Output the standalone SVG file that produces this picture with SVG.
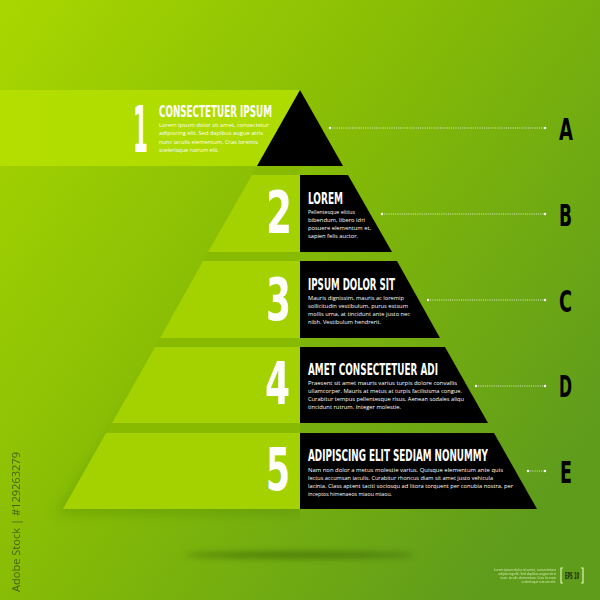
<svg xmlns="http://www.w3.org/2000/svg" width="600" height="600" viewBox="0 0 600 600">
<defs>
<linearGradient id="bg" x1="0" y1="0" x2="1" y2="0.7">
<stop offset="0" stop-color="#a9d700"/>
<stop offset="0.5" stop-color="#85bb06"/>
<stop offset="1" stop-color="#5f9c1c"/>
</linearGradient>
<linearGradient id="band" x1="0" y1="0" x2="1" y2="0">
<stop offset="0" stop-color="#b3de00"/>
<stop offset="1" stop-color="#aedb00"/>
</linearGradient>
<filter id="blur" x="-20%" y="-20%" width="140%" height="140%"><feGaussianBlur stdDeviation="6"/></filter>
<filter id="blur2" x="-20%" y="-200%" width="140%" height="500%"><feGaussianBlur stdDeviation="3"/></filter>
<clipPath id="lefthalf"><rect x="0" y="0" width="300" height="600"/></clipPath>
</defs>
<style>
.lt{fill:#a4d100}
.bk{fill:#000}
.num{font-family:"DejaVu Sans Condensed","Liberation Sans Narrow","Liberation Sans",sans-serif;font-weight:bold;fill:#fff}
.ttl{font-family:"DejaVu Sans Condensed","Liberation Sans Narrow","Liberation Sans",sans-serif;font-weight:bold;fill:#fff;font-size:16px}
.body{font-family:"Open Sans","Noto Sans",sans-serif;fill:#fff;font-size:5.8px}
.let{font-family:"DejaVu Sans Condensed","Liberation Sans Narrow","Liberation Sans",sans-serif;font-weight:bold;fill:#000;font-size:30px}
.dot{stroke:#fff;stroke-width:0.8;stroke-dasharray:1 1.2;fill:none}
.end{fill:#fff}
</style>
<rect width="600" height="600" fill="url(#bg)"/>
<g clip-path="url(#lefthalf)">
<polygon points="300,150 300,515 55,515" fill="#4f8a00" opacity="0.35" filter="url(#blur)"/>
<polygon points="300,166 300,509 63,509 257,166" fill="#88bb00"/>
</g>
<ellipse cx="300" cy="555" rx="115" ry="3" fill="#2c4f00" opacity="0.55" filter="url(#blur2)"/>

<g id="level-1">
<rect x="0" y="90" width="300" height="76" fill="url(#band)"/>
<polygon class="bk" points="300,90 343,166 257,166"/>
<text class="num" transform="translate(133,152) scale(0.45,1)" font-size="64" textLength="33.3" lengthAdjust="spacingAndGlyphs">1</text>
<text class="ttl" transform="translate(159,117) scale(0.7,1)" textLength="161.4" lengthAdjust="spacingAndGlyphs">CONSECTETUER IPSUM</text>
<text class="body" x="159" y="127" textLength="110" lengthAdjust="spacingAndGlyphs">Lorem ipsum dolor sit amet, consectetur</text>
<text class="body" x="159" y="135.3" textLength="104" lengthAdjust="spacingAndGlyphs">adipiscing elit. Sed dapibus augue atris</text>
<text class="body" x="159" y="143.6" textLength="99" lengthAdjust="spacingAndGlyphs">nunc iaculis elementum. Cras loremis</text>
<text class="body" x="159" y="151.9" textLength="60" lengthAdjust="spacingAndGlyphs">scelerisque rutrum elit.</text>
</g>

<g id="level-2">
<polygon class="lt" points="252,175 300,175 300,252 208,252"/>
<polygon class="bk" points="300,175 348,175 392,252 300,252"/>
<text class="num" transform="translate(266,233) scale(0.5,1)" font-size="59" textLength="52" lengthAdjust="spacingAndGlyphs">2</text>
<text class="ttl" transform="translate(308,204) scale(0.7,1)" textLength="50" lengthAdjust="spacingAndGlyphs">LOREM</text>
<text class="body" x="308" y="213.5" textLength="47" lengthAdjust="spacingAndGlyphs">Pellentesque elitius</text>
<text class="body" x="308" y="221.5" textLength="57" lengthAdjust="spacingAndGlyphs">bibendum, libero idri</text>
<text class="body" x="308" y="229.5" textLength="63" lengthAdjust="spacingAndGlyphs">posuere elementum et,</text>
<text class="body" x="308" y="237.5" textLength="50" lengthAdjust="spacingAndGlyphs">sapien felis auctor.</text>
</g>

<g id="level-3">
<polygon class="lt" points="203,261 300,261 300,338 160,338"/>
<polygon class="bk" points="300,261 397,261 440,338 300,338"/>
<text class="num" transform="translate(266,320) scale(0.5,1)" font-size="59" textLength="50" lengthAdjust="spacingAndGlyphs">3</text>
<text class="ttl" transform="translate(308,290) scale(0.7,1)" textLength="124.3" lengthAdjust="spacingAndGlyphs">IPSUM DOLOR SIT</text>
<text class="body" x="308" y="299.5" textLength="96" lengthAdjust="spacingAndGlyphs">Mauris dignissim, mauris ac loremip</text>
<text class="body" x="308" y="307.5" textLength="100" lengthAdjust="spacingAndGlyphs">sollicitudin vestibulum, purus estsum</text>
<text class="body" x="308" y="315.5" textLength="102" lengthAdjust="spacingAndGlyphs">mollis urna, at tincidunt ante justo nec</text>
<text class="body" x="308" y="323.5" textLength="73" lengthAdjust="spacingAndGlyphs">nibh. Vestibulum hendrerit.</text>
</g>

<g id="level-4">
<polygon class="lt" points="155,347 300,347 300,423 112,423"/>
<polygon class="bk" points="300,347 445,347 488,423 300,423"/>
<text class="num" transform="translate(265,404) scale(0.5,1)" font-size="59" textLength="50" lengthAdjust="spacingAndGlyphs">4</text>
<text class="ttl" transform="translate(308,375) scale(0.7,1)" textLength="185.7" lengthAdjust="spacingAndGlyphs">AMET CONSECTETUER ADI</text>
<text class="body" x="308" y="384.5" textLength="149" lengthAdjust="spacingAndGlyphs">Praesent sit amet mauris varius turpis dolore convallis</text>
<text class="body" x="308" y="392.5" textLength="154" lengthAdjust="spacingAndGlyphs">ullamcorper. Mauris at metus at turpis facilisisma congue.</text>
<text class="body" x="308" y="400.5" textLength="156" lengthAdjust="spacingAndGlyphs">Curabitur tempus pellentesque risus. Aenean sodales aliqu</text>
<text class="body" x="308" y="408.5" textLength="93" lengthAdjust="spacingAndGlyphs">tincidunt rutrum. Integer molestie.</text>
</g>

<g id="level-5">
<polygon class="lt" points="106,433 300,433 300,509 63,509"/>
<polygon class="bk" points="300,433 494,433 537,509 300,509"/>
<text class="num" transform="translate(266,490) scale(0.5,1)" font-size="59" textLength="48" lengthAdjust="spacingAndGlyphs">5</text>
<text class="ttl" transform="translate(308,461) scale(0.7,1)" textLength="257.1" lengthAdjust="spacingAndGlyphs">ADIPISCING ELIT SEDIAM NONUMMY</text>
<text class="body" x="308" y="471.5" textLength="195" lengthAdjust="spacingAndGlyphs">Nam non dolor a metus molestie varius. Quisque elementum ante quis</text>
<text class="body" x="308" y="479.5" textLength="185" lengthAdjust="spacingAndGlyphs">lectus accumsan iaculis. Curabitur rhoncus diam sit amet justo vehicula</text>
<text class="body" x="308" y="487.5" textLength="205" lengthAdjust="spacingAndGlyphs">lacinia. Class aptent taciti sociosqu ad litora torquent per conubia nostra, per</text>
<text class="body" x="308" y="495.5" textLength="84" lengthAdjust="spacingAndGlyphs">inceptos himenaeos miaou miaou.</text>
</g>

<g id="connectors">
<line class="dot" x1="330" y1="128" x2="545" y2="128"/>
<circle class="end" cx="330" cy="128" r="1.2"/><circle class="end" cx="545" cy="128" r="1.2"/>
<line class="dot" x1="382" y1="214" x2="545" y2="214"/>
<circle class="end" cx="382" cy="214" r="1.2"/><circle class="end" cx="545" cy="214" r="1.2"/>
<line class="dot" x1="428" y1="300" x2="545" y2="300"/>
<circle class="end" cx="428" cy="300" r="1.2"/><circle class="end" cx="545" cy="300" r="1.2"/>
<line class="dot" x1="476" y1="386" x2="545" y2="386"/>
<circle class="end" cx="476" cy="386" r="1.2"/><circle class="end" cx="545" cy="386" r="1.2"/>
<line class="dot" x1="528" y1="471" x2="545" y2="471"/>
<circle class="end" cx="528" cy="471" r="1.2"/><circle class="end" cx="545" cy="471" r="1.2"/>
</g>

<g id="letters">
<text class="let" transform="translate(559,140) scale(0.6,1)" textLength="23.3" lengthAdjust="spacingAndGlyphs">A</text>
<text class="let" transform="translate(559,226) scale(0.6,1)" textLength="21.7" lengthAdjust="spacingAndGlyphs">B</text>
<text class="let" transform="translate(559,312) scale(0.6,1)" textLength="21.7" lengthAdjust="spacingAndGlyphs">C</text>
<text class="let" transform="translate(559,397) scale(0.6,1)" textLength="21.7" lengthAdjust="spacingAndGlyphs">D</text>
<text class="let" transform="translate(560,483) scale(0.6,1)" textLength="20" lengthAdjust="spacingAndGlyphs">E</text>
</g>

<g id="footer">
<g font-family="'Open Sans','Noto Sans',sans-serif" font-size="3.2" fill="#eaf7c8" opacity="0.85" text-anchor="end">
<text x="556" y="571">Lorem ipsum dolor sit amet, consectetuer</text>
<text x="556" y="575">adipiscing elit. Sed dapibus augue atris</text>
<text x="556" y="579">nunc iaculis elementum. Cras loremis</text>
<text x="556" y="583">scelerisque rutrum elit.</text>
</g>
<path d="M563,568 h-2 v15 h2 M581,568 h2 v15 h-2" fill="none" stroke="#dff2b0" stroke-width="1.2"/>
<text x="565" y="579" font-family="'DejaVu Sans Condensed','Liberation Sans',sans-serif" font-weight="bold" font-size="8" fill="#1c2c00" textLength="14" lengthAdjust="spacingAndGlyphs">EPS 10</text>
<text transform="translate(20,592) rotate(-90)" font-family="'Open Sans','Noto Sans',sans-serif" font-size="11" fill="#2a3a10" opacity="0.7" textLength="140" lengthAdjust="spacingAndGlyphs">Adobe Stock | #129263279</text>
</g>
</svg>
